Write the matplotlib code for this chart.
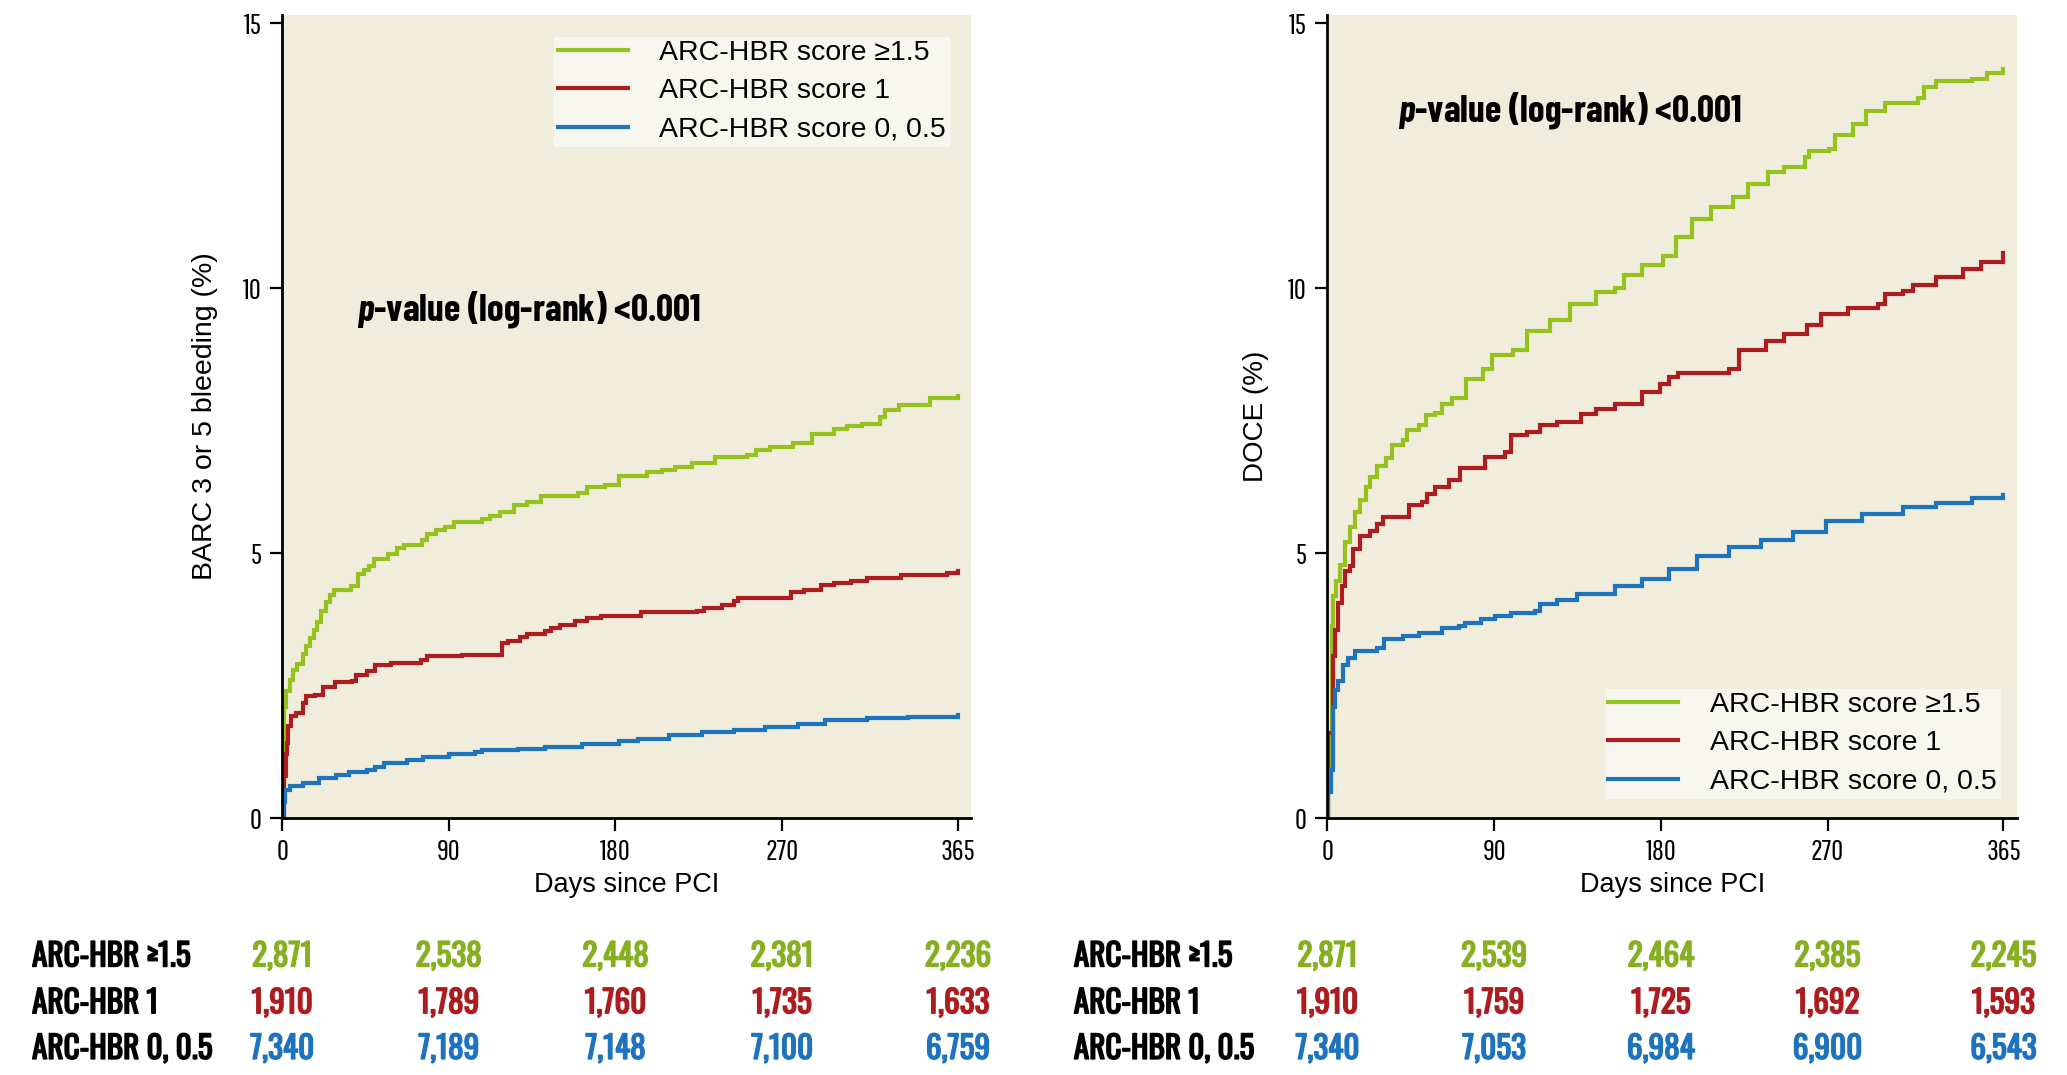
import matplotlib
matplotlib.use("Agg")
import matplotlib.pyplot as plt
from matplotlib import transforms
import matplotlib.patheffects as pe

# ---------------- data ----------------
xticks = [0, 90, 180, 270, 365]
yticks = [0, 5, 10, 15]
series_labels = ["ARC-HBR score \u22651.5", "ARC-HBR score 1", "ARC-HBR score 0, 0.5"]
row_labels = ["ARC-HBR \u22651.5", "ARC-HBR 1", "ARC-HBR 0, 0.5"]

# Left panel: BARC 3 or 5 bleeding
bleed_hi_days = [0, 0.5, 1, 2, 4, 6, 8, 11, 13, 15, 17, 19, 21, 23.5, 26, 28, 37, 41, 44, 47, 49.5, 57, 62, 66,
                 75.5, 78, 83, 88, 93, 108, 112, 117.6, 125, 132, 140, 160, 164.6, 174.5, 182, 197, 205, 212,
                 221.5, 234, 251, 256, 263.6, 276, 286, 298, 305, 313, 323, 325.5, 333, 350, 365]
bleed_hi_vals = [0, 1.2, 2.1, 2.4, 2.6, 2.8, 2.9, 3.1, 3.25, 3.4, 3.55, 3.7, 3.9, 4.07, 4.2, 4.3, 4.37, 4.6, 4.68,
                 4.75, 4.89, 4.99, 5.1, 5.15, 5.25, 5.35, 5.44, 5.5, 5.58, 5.64, 5.7, 5.77, 5.9, 5.96, 6.07, 6.13,
                 6.24, 6.29, 6.46, 6.52, 6.57, 6.62, 6.7, 6.82, 6.85, 6.95, 7.01, 7.08, 7.24, 7.34, 7.39, 7.44,
                 7.57, 7.7, 7.8, 7.92, 7.96]
bleed_mid_days = [0, 1, 2, 2.5, 3.3, 5, 7.7, 11, 13, 18, 21.8, 28.8, 37.6, 40, 46, 50, 58.7, 75, 78, 97, 118.5,
                  122, 128.7, 132, 142, 145, 150, 158, 164.6, 172, 194, 224, 228, 237.6, 244, 246, 275, 282, 291,
                  298, 307, 315.6, 334, 359, 365]
bleed_mid_vals = [0, 0.8, 1.2, 1.42, 1.73, 1.92, 1.98, 2.17, 2.3, 2.33, 2.48, 2.56, 2.58, 2.7, 2.77, 2.89, 2.92,
                  2.99, 3.05, 3.08, 3.3, 3.35, 3.42, 3.48, 3.52, 3.58, 3.65, 3.71, 3.78, 3.82, 3.88, 3.91, 3.97,
                  4.02, 4.1, 4.15, 4.27, 4.31, 4.39, 4.43, 4.48, 4.53, 4.58, 4.63, 4.67]
bleed_lo_days = [0, 0.5, 1.6, 4.2, 11, 20, 29, 36, 46, 50, 55, 67.5, 76, 90, 104, 108, 127.5, 142, 162, 182, 192,
                 209, 226.5, 244, 261, 278.5, 293, 315.6, 338, 365]
bleed_lo_vals = [0, 0.3, 0.53, 0.6, 0.66, 0.75, 0.82, 0.86, 0.91, 0.97, 1.04, 1.1, 1.16, 1.2, 1.24, 1.29, 1.31,
                 1.35, 1.4, 1.46, 1.49, 1.56, 1.62, 1.67, 1.72, 1.78, 1.85, 1.88, 1.9, 1.95]

# Right panel: DOCE
doce_hi_days = [0, 0.5, 1.4, 2.3, 3.2, 4.6, 6.8, 9.4, 12, 14.8, 17.4, 21, 22.8, 27, 31.7, 35, 40.6, 43, 49.5, 53,
                58, 62, 67, 75, 84, 89, 100, 107.5, 120, 131, 145, 155, 160, 170, 181, 188, 197, 207, 219, 227,
                238, 246.6, 257.8, 260, 271, 274, 284, 291, 301, 318.6, 322, 328.5, 348, 356, 365]
doce_hi_vals = [0, 0.6, 1.47, 3.62, 4.19, 4.47, 4.78, 5.2, 5.5, 5.77, 6.0, 6.24, 6.43, 6.65, 6.8, 7.03, 7.13,
                7.32, 7.42, 7.6, 7.65, 7.82, 7.92, 8.28, 8.48, 8.73, 8.84, 9.19, 9.39, 9.7, 9.92, 10.0, 10.25,
                10.43, 10.6, 10.96, 11.3, 11.52, 11.72, 11.97, 12.18, 12.28, 12.48, 12.58, 12.63, 12.88, 13.09,
                13.34, 13.49, 13.59, 13.8, 13.9, 13.95, 14.05, 14.13]
doce_mid_days = [0, 0.5, 3.2, 4, 5.9, 7.7, 9.4, 12, 13.9, 17.4, 22.8, 27, 30, 44, 51, 54, 58, 65.5, 71.7, 85, 95.7,
                 99, 108, 115, 124, 137, 145, 155, 170, 179.6, 184.5, 189.5, 217, 222, 236.6, 246.6, 259, 266.5,
                 281, 297.5, 301, 311, 316, 328.6, 343, 353, 365]
doce_mid_vals = [0, 1.6, 3.05, 3.54, 4.06, 4.37, 4.66, 4.76, 5.08, 5.33, 5.42, 5.54, 5.68, 5.91, 5.96, 6.12,
                 6.25, 6.37, 6.6, 6.82, 6.9, 7.22, 7.28, 7.42, 7.47, 7.62, 7.72, 7.82, 8.03, 8.18, 8.33, 8.4,
                 8.48, 8.84, 9.0, 9.14, 9.31, 9.51, 9.62, 9.7, 9.88, 9.95, 10.05, 10.2, 10.35, 10.5, 10.66]
doce_lo_days = [0, 0.5, 1.8, 2.8, 4, 5.9, 8.5, 11, 14.8, 27, 30.8, 40.6, 49.5, 62, 70.8, 74.4, 83, 90.4, 99, 112,
                115, 124, 135, 155, 170, 184.5, 199.4, 217, 234, 251.5, 269, 288.8, 311, 328.5, 348, 365]
doce_lo_vals = [0, 0.5, 0.9, 2.1, 2.42, 2.58, 2.89, 3.02, 3.15, 3.21, 3.37, 3.43, 3.49, 3.59, 3.62, 3.68, 3.75,
                3.81, 3.87, 3.9, 4.03, 4.12, 4.23, 4.38, 4.51, 4.69, 4.94, 5.12, 5.24, 5.39, 5.6, 5.73, 5.87,
                5.95, 6.03, 6.1]

# Numbers at risk
bleed_risk_hi = ["2,871", "2,538", "2,448", "2,381", "2,236"]
bleed_risk_mid = ["1,910", "1,789", "1,760", "1,735", "1,633"]
bleed_risk_lo = ["7,340", "7,189", "7,148", "7,100", "6,759"]
doce_risk_hi = ["2,871", "2,539", "2,464", "2,385", "2,245"]
doce_risk_mid = ["1,910", "1,759", "1,725", "1,692", "1,593"]
doce_risk_lo = ["7,340", "7,053", "6,984", "6,900", "6,543"]

# ---------------- style ----------------
GREEN = "#95c21e"
RED = "#ad1d20"
BLUE = "#1e73be"
TGREEN = "#86b022"
BEIGE = "#f1eddc"
LEGBG = "#f8f7ef"
colors = [GREEN, RED, BLUE]
tcolors = [TGREEN, RED, BLUE]

COND = ["Pathway Gothic One", "Roboto Condensed", "DejaVu Sans"]
TABLEF = ["Oswald", "Barlow Condensed", "DejaVu Sans"]
PVALF = ["Barlow Condensed", "Roboto Condensed", "DejaVu Sans"]
WIDE = ["Liberation Sans", "DejaVu Sans"]

plt.rcParams["mathtext.fontset"] = "custom"
plt.rcParams["mathtext.it"] = "Barlow Condensed:italic:bold"
plt.rcParams["mathtext.rm"] = "Barlow Condensed:bold"

fig = plt.figure(figsize=(20.67, 10.75), dpi=100)
axL = fig.add_axes([0.1365, 0.239, 0.3335, 0.747])
axR = fig.add_axes([0.6422, 0.239, 0.3336, 0.747])


def style_axes(ax, ylabel, ylabel_x, ylsize):
    ax.set_facecolor(BEIGE)
    ax.set_xlim(0, 372.3)
    ax.set_ylim(0, 15.15)
    ax.set_xticks(xticks)
    ax.set_yticks(yticks)
    for s in ["top", "right"]:
        ax.spines[s].set_visible(False)
    for s in ["left", "bottom"]:
        ax.spines[s].set_linewidth(2.0)
        ax.spines[s].set_color("black")
    ax.tick_params(axis="both", direction="out", length=9, width=1.6, pad=6, labelsize=21)
    for lab in ax.get_xticklabels() + ax.get_yticklabels():
        lab.set_family(COND)
    ax.set_xlabel("Days since PCI", family=WIDE, fontsize=19.5)
    ax.xaxis.set_label_coords(0.5, -0.083)
    ax.xaxis.label.set_va("center")
    ax.set_ylabel(ylabel, family=WIDE, fontsize=ylsize)
    ax.yaxis.set_label_coords(ylabel_x, 0.5)
    ax.yaxis.label.set_va("center")


panels = [
    (axL, [(bleed_hi_days, bleed_hi_vals), (bleed_mid_days, bleed_mid_vals), (bleed_lo_days, bleed_lo_vals)]),
    (axR, [(doce_hi_days, doce_hi_vals), (doce_mid_days, doce_mid_vals), (doce_lo_days, doce_lo_vals)]),
]
for ax, curves in panels:
    for (d, v), c, lab in zip(curves, colors, series_labels):
        ax.step(d, v, where="post", color=c, lw=3.0, label=lab, solid_joinstyle="miter")

style_axes(axL, "BARC 3 or 5 bleeding (%)", -0.112, 20.5)
style_axes(axR, "DOCE (%)", -0.104, 20)

# legends
leg_kw = dict(frameon=True, fancybox=False, facecolor=LEGBG, edgecolor=LEGBG, framealpha=1,
              borderaxespad=0, prop={"family": WIDE, "size": 20.5}, handlelength=2.45,
              handletextpad=1.1, labelspacing=0.43, borderpad=0.12)
axL.legend(loc="upper right", bbox_to_anchor=(0.9675, 0.973), **leg_kw)
axR.legend(loc="lower right", bbox_to_anchor=(0.975, 0.025), **leg_kw)

# p-value annotations
ptxt = r"$p$-value (log-rank) <0.001"
axL.text(0.109, 0.620, ptxt, transform=axL.transAxes, family=PVALF, fontweight="bold",
         fontsize=27, va="baseline", ha="left")
axR.text(0.103, 0.867, ptxt, transform=axR.transAxes, family=PVALF, fontweight="bold",
         fontsize=27, va="baseline", ha="left")

# numbers at risk tables
row_y = [0.101, 0.0575, 0.015]
tables = [
    (axL, 0.0155, [bleed_risk_hi, bleed_risk_mid, bleed_risk_lo]),
    (axR, 0.5195, [doce_risk_hi, doce_risk_mid, doce_risk_lo]),
]
for ax, lx, rows in tables:
    tr = transforms.blended_transform_factory(ax.transData, fig.transFigure)
    for y, lab, vals, c in zip(row_y, row_labels, rows, tcolors):
        t = fig.text(lx, y, lab, family=TABLEF, fontweight="bold", fontsize=22.5, va="baseline", ha="left")
        t.set_path_effects([pe.withStroke(linewidth=1.1, foreground="black")])
        for xt, v in zip(xticks, vals):
            tv = fig.text(xt, y, v, transform=tr, family=TABLEF, fontweight="bold", fontsize=22.5,
                          va="baseline", ha="center", color=c)
            tv.set_path_effects([pe.withStroke(linewidth=1.1, foreground=c)])

fig.savefig("out.png", dpi=100)
